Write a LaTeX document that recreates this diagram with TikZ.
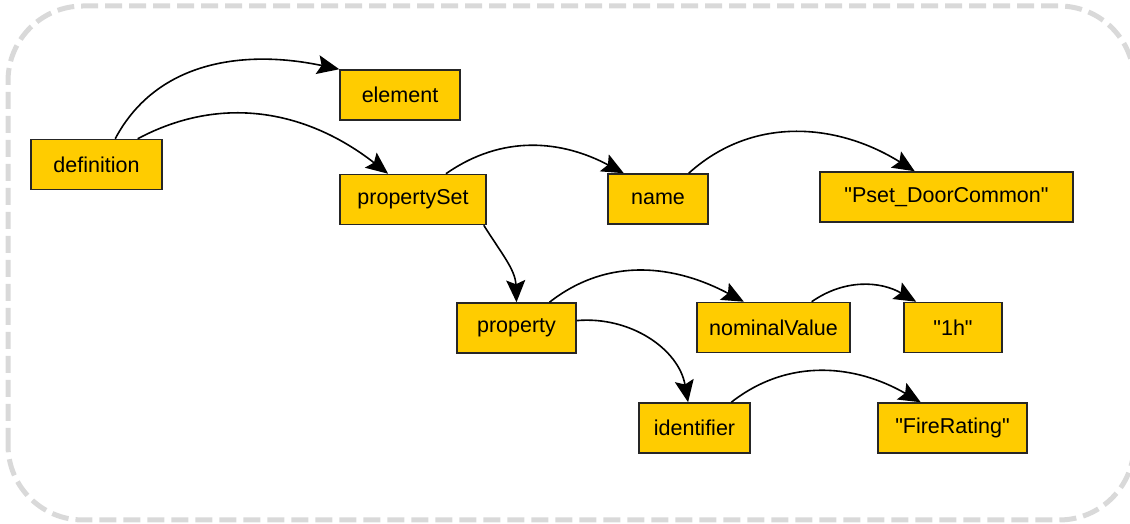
\documentclass[tikz,border=0pt]{standalone}
\usepackage{fontspec}
\setmainfont{Liberation Sans}[Ligatures=TeXOff]
\usetikzlibrary{arrows.meta}
\definecolor{tagfill}{HTML}{FFCC00}
\definecolor{framegray}{HTML}{D9D9D9}
\begin{document}
\begin{tikzpicture}[x=1pt,y=1pt,
    tag/.style={draw=black!85,fill=tagfill,line width=1.5pt,minimum height=50pt,
      inner sep=0pt,font=\fontsize{21.5}{25}\selectfont},
    link/.style={line width=1.6pt,-{Stealth[length=22pt,width=19pt,inset=4pt]}}]
  \useasboundingbox (0,0) rectangle (1130,524);
  \clip (0,0) rectangle (1130,524);
  \draw[framegray,line width=5pt,dash pattern=on 17pt off 7pt,rounded corners=75pt]
    (8,4) rectangle (1134,518);
  % tree nodes
  \node[tag,minimum width=131pt] (definition) at (96.5,359.5) {definition};
  \node[tag,minimum width=120pt] (element) at (400,429) {element};
  \node[tag,minimum width=146pt] (propertySet) at (413,324.5) {propertySet};
  \node[tag,minimum width=100pt] (name) at (658,325) {name};
  \node[tag,minimum width=253pt] (psetName) at (946.5,327) {"Pset\_DoorCommon"};
  \node[tag,minimum width=119pt] (property) at (516.5,196) {property};
  \node[tag,minimum width=153pt] (nominalValue) at (773.5,196.5) {nominalValue};
  \node[tag,minimum width=98pt] (valueText) at (953,196.5) {"1h"};
  \node[tag,minimum width=111pt] (identifier) at (694.5,96) {identifier};
  \node[tag,minimum width=149pt] (idText) at (952.5,96) {"FireRating"};
  % edges
  \draw[link] (definition.54) to[out=62,in=168] (element.north west);
  \draw[link] (definition.32) to[out=28,in=142] (propertySet.134);
  \draw[link] (propertySet.38) to[out=35,in=152] (name.143);
  \draw[link] (name.40) to[out=42,in=148] (psetName.141);
  \draw[link] (propertySet.-20) to[out=-58,in=92] (property.north);
  \draw[link] (property.38) to[out=38,in=152] (nominalValue.139);
  \draw[link] (nominalValue.34) to[out=35,in=150] (valueText.145);
  \draw[link] (property.7) to[out=5,in=100] (identifier.104);
  \draw[link] (identifier.35) to[out=38,in=150] (idText.141);
\end{tikzpicture}
\end{document}
